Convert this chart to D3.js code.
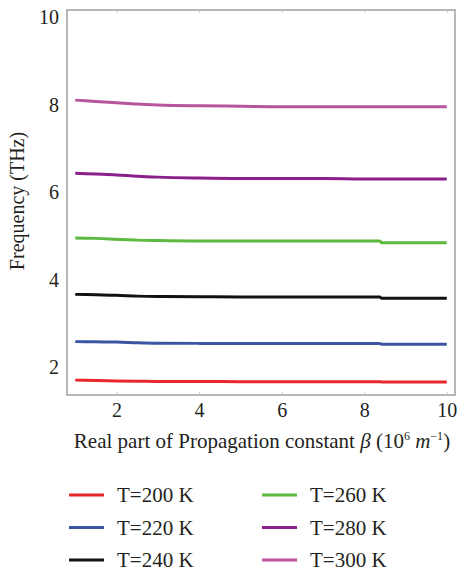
<!DOCTYPE html>
<html>
<head>
<meta charset="utf-8">
<script src="https://cdn.jsdelivr.net/npm/d3@7"></script>
<style>
  body { margin: 0; background: #fff; }
</style>
</head>
<body>
<svg id="chart" width="457" height="571" font-family="Liberation Serif"></svg>
<script>
// beta values (10^6 m^-1), step in the curves near 8.4
const betas = [1, 1.5, 2, 2.5, 3, 4, 5, 6, 7, 8, 8.38, 8.42, 9, 10];

const f200 = [1.71, 1.70, 1.69, 1.685, 1.68, 1.68, 1.675, 1.675, 1.675, 1.675, 1.675, 1.67, 1.67, 1.67];
const f220 = [2.59, 2.585, 2.58, 2.565, 2.555, 2.55, 2.55, 2.55, 2.55, 2.55, 2.55, 2.53, 2.53, 2.53];
const f240 = [3.67, 3.66, 3.65, 3.63, 3.62, 3.615, 3.61, 3.61, 3.61, 3.61, 3.61, 3.58, 3.58, 3.58];
const f260 = [4.96, 4.95, 4.93, 4.91, 4.90, 4.89, 4.89, 4.89, 4.89, 4.89, 4.89, 4.85, 4.85, 4.85];
const f280 = [6.44, 6.42, 6.40, 6.37, 6.35, 6.33, 6.32, 6.32, 6.32, 6.31, 6.31, 6.31, 6.31, 6.31];
const f300 = [8.11, 8.08, 8.05, 8.02, 8.00, 7.98, 7.97, 7.96, 7.96, 7.96, 7.96, 7.96, 7.96, 7.96];

const seriesNames = ["T=200 K", "T=220 K", "T=240 K", "T=260 K", "T=280 K", "T=300 K"];
const seriesValues = [f200, f220, f240, f260, f280, f300];
const colors = ["#e8262b", "#3a55a3", "#111111", "#5db93f", "#8a1f8a", "#b8559f"];

const xTicks = [2, 4, 6, 8, 10];
const yTicks = [2, 4, 6, 8, 10];

const serif = "Liberation Serif";
const ink = "#231f20";
const svg = d3.select("#chart");

const x = d3.scaleLinear().domain([0.8, 10.2]).range([67, 455]);
const y = d3.scaleLinear().domain([1.37, 10.17]).range([395, 10]);

// frame
svg.append("rect")
  .attr("x", x.range()[0]).attr("y", y.range()[1])
  .attr("width", x.range()[1] - x.range()[0])
  .attr("height", y.range()[0] - y.range()[1])
  .attr("fill", "none").attr("stroke", "#a0a0a0").attr("stroke-width", 1.5);

// x axis (labels only, small inward ticks)
const xAxis = svg.append("g")
  .attr("transform", `translate(0,${y.range()[0]})`)
  .call(d3.axisBottom(x).tickValues(xTicks).tickSize(-3).tickPadding(8));
xAxis.attr("font-family", serif).attr("font-size", 20);
xAxis.select(".domain").remove();
xAxis.selectAll("line").attr("stroke", "#c8c8c8");
xAxis.selectAll("text").attr("fill", ink);

// top ticks
svg.append("g")
  .attr("transform", `translate(0,${y.range()[1]})`)
  .call(d3.axisTop(x).tickValues(xTicks).tickSize(-3).tickFormat(""))
  .call(g => g.select(".domain").remove())
  .selectAll("line").attr("stroke", "#c8c8c8");

// y axis
const yAxis = svg.append("g")
  .attr("transform", `translate(${x.range()[0]},0)`)
  .call(d3.axisLeft(y).tickValues(yTicks).tickSize(0).tickPadding(8));
yAxis.attr("font-family", serif).attr("font-size", 20);
yAxis.select(".domain").remove();
yAxis.selectAll("text").attr("fill", ink);

// lines
const line = d3.line()
  .x((d, i) => x(betas[i]))
  .y(d => y(d))
  .curve(d3.curveMonotoneX);

svg.append("g").selectAll("path")
  .data(seriesValues)
  .join("path")
  .attr("d", line)
  .attr("fill", "none")
  .attr("stroke", (d, i) => colors[i])
  .attr("stroke-width", 3);

// axis titles
const xTitle = svg.append("text")
  .attr("x", 262).attr("y", 448)
  .attr("text-anchor", "middle")
  .attr("fill", ink)
  .attr("font-size", 21);
xTitle.append("tspan").text("Real part of Propagation constant ");
xTitle.append("tspan").attr("font-style", "italic").text("β");
xTitle.append("tspan").text(" (10");
xTitle.append("tspan").attr("dy", -8).attr("font-size", 12).text("6");
xTitle.append("tspan").attr("dy", 8).text(" ");
xTitle.append("tspan").attr("font-style", "italic").text("m");
xTitle.append("tspan").attr("dy", -8).attr("font-size", 12).text("−1");
xTitle.append("tspan").attr("dy", 8).text(")");

svg.append("text")
  .attr("transform", "translate(24,201) rotate(-90)")
  .attr("text-anchor", "middle")
  .attr("fill", ink)
  .attr("font-size", 20)
  .text("Frequency (THz)");

// legend
const legend = svg.append("g");
const items = legend.selectAll("g")
  .data(seriesNames)
  .join("g")
  .attr("transform", (d, i) => `translate(${i < 3 ? 69 : 262},${495 + (i % 3) * 32.5})`);

items.append("line")
  .attr("x1", 0).attr("x2", 35)
  .attr("stroke", (d, i) => colors[i])
  .attr("stroke-width", 3);

items.append("text")
  .attr("x", 48).attr("dy", "0.35em")
  .attr("fill", ink)
  .attr("font-size", 21)
  .text(d => d);
</script>
</body>
</html>
